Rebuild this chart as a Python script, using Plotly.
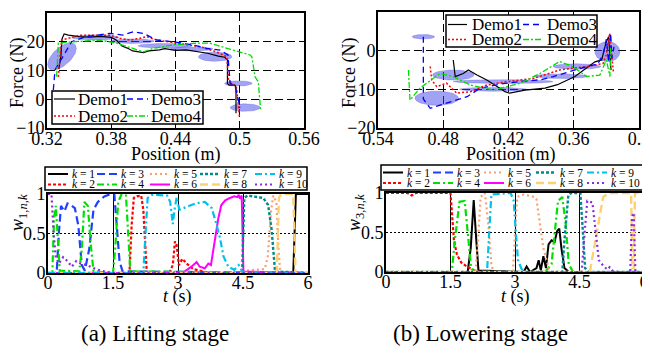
import numpy as np
import plotly.graph_objects as go

W, H = 650, 354
FONT = "Liberation Serif, Times New Roman, serif"
OFF = 8  # the page body adds an 8px margin; positions below are page pixels


def X(px):
    return (px - OFF) / W


def Y(py):
    return 1 - (py - OFF) / H


# ---------------- DATA: (a) lifting, force vs position ----------------
lift_d1_x = [0.331, 0.333, 0.334, 0.336, 0.340, 0.350, 0.360, 0.370, 0.380, 0.385, 0.390, 0.395, 0.400, 0.405,
             0.410, 0.415, 0.420, 0.425, 0.430, 0.440, 0.450, 0.460, 0.470, 0.480, 0.486, 0.4885, 0.4885, 0.490,
             0.4955, 0.4965, 0.4965]
lift_d1_y = [10.5, 15, 21, 22.7, 22.3, 21.8, 21.6, 21.9, 21.5, 20.5, 18.5, 17.8, 16.8, 16.5, 16.2, 16.8, 16.9,
             17.2, 17.6, 17.0, 17.2, 16.6, 16.0, 15.0, 14.6, 13.6, 5.5, 4.9, 4.9, 4.0, -4.9]
lift_d2_x = [0.3306, 0.3337, 0.3508, 0.3788, 0.388, 0.3975, 0.4068, 0.413, 0.4224, 0.438, 0.463, 0.478, 0.488,
             0.4895, 0.494, 0.497, 0.4997]
lift_d2_y = [7.8, 20.6, 22.3, 22.3, 21.2, 20.6, 21.2, 21.8, 20.6, 19.7, 18.3, 16.5, 14.8, 6.7, 4.9, 4.0, -6.0]
lift_d3_x = [0.3259, 0.3275, 0.3321, 0.3384, 0.343, 0.357, 0.3788, 0.391, 0.4006, 0.410, 0.4224, 0.438, 0.4567,
             0.469, 0.4815, 0.489, 0.491, 0.494, 0.496, 0.4987, 0.500]
lift_d3_y = [3.2, 10.2, 13.1, 17.1, 20.0, 21.8, 22.9, 22.3, 23.5, 22.9, 20.6, 20.0, 18.9, 17.7, 17.1, 15.4, 5.5,
             5.0, 4.0, -0.3, -3.0]
lift_d4_x = [0.329, 0.3306, 0.3445, 0.3695, 0.385, 0.4006, 0.410, 0.4193, 0.438, 0.4598, 0.472, 0.490, 0.5096,
             0.5113, 0.5143, 0.5173, 0.5195]
lift_d4_y = [7.8, 19.5, 20.0, 20.6, 19.5, 17.7, 16.5, 17.7, 18.9, 19.5, 19.5, 17.5, 15.4, 14.8, 7.8, 6.1, -3.7]

# Gaussian components: centre, half-width, half-height, correlation
lift_ell_cx = [0.334, 0.365, 0.400, 0.430, 0.455, 0.477, 0.4987, 0.505]
lift_ell_cy = [14.9, 21.5, 20.2, 18.6, 17.5, 14.8, 5.5, -2.9]
lift_ell_rx = [0.0134, 0.022, 0.020, 0.025, 0.020, 0.0156, 0.0129, 0.014]
lift_ell_ry = [4.7, 0.9, 0.8, 0.8, 0.7, 1.6, 0.9, 1.3]
lift_ell_rho = [0.6, 0, 0, 0, 0, 0, 0, 0]

# ---------------- DATA: (b) lowering, force vs position ----------------
low_d1_x = [0.4708, 0.469, 0.4616, 0.457, 0.449, 0.440, 0.428, 0.4232, 0.419, 0.4048, 0.3864, 0.375, 0.3589,
            0.3405, 0.3343, 0.3305, 0.328, 0.3257]
low_d1_y = [-2.4, -6.7, -5.9, -5.0, -6.3, -7.6, -9.7, -10.6, -11.0, -10.2, -9.7, -8.8, -6.7, -2.9, -2.4, 1.9,
            3.6, -5.0]
low_d2_x = [0.492, 0.4906, 0.486, 0.477, 0.4676, 0.455, 0.440, 0.4217, 0.397, 0.373, 0.348, 0.333, 0.330, 0.327,
            0.3236]
low_d2_y = [-4.1, -7.6, -9.3, -8.4, -11.0, -10.6, -8.9, -8.0, -7.2, -5.0, -4.1, -3.3, -1.0, 4.5, -5.4]
low_d3_x = [0.4983, 0.4983, 0.4983, 0.492, 0.476, 0.458, 0.446, 0.425, 0.409, 0.390, 0.379, 0.363, 0.348, 0.338,
            0.333, 0.330, 0.328, 0.326, 0.325, 0.323]
low_d3_y = [3.6, -5.0, -12.5, -14.9, -13.5, -11.9, -9.7, -8.5, -8.0, -7.5, -6.7, -5.4, -4.1, -3.5, -1.0, 3.0,
            -3.0, 4.5, -2.0, 1.0]
low_d4_x = [0.512, 0.5106, 0.5014, 0.483, 0.471, 0.455, 0.434, 0.409, 0.391, 0.373, 0.361, 0.348, 0.336, 0.330,
            0.3267, 0.326]
low_d4_y = [-5.0, -12.8, -9.7, -5.9, -6.7, -8.9, -10.2, -8.4, -5.9, -2.8, -4.1, -6.7, -6.3, -2.4, -6.7, 1.0]

low_ell_cx = [0.4983, 0.486, 0.4708, 0.425, 0.434, 0.372, 0.357, 0.329]
low_ell_cy = [3.6, -12.3, -6.3, -8.0, -10.0, -6.6, -4.1, -0.26]
low_ell_rx = [0.0103, 0.020, 0.019, 0.046, 0.031, 0.025, 0.022, 0.0115]
low_ell_ry = [0.6, 1.85, 1.3, 0.5, 0.5, 0.6, 0.7, 2.6]
low_ell_rho = [0, 0, 0, 0, 0, 0, 0, 0]

# ---------------- DATA: activation weights w_{1,n,k} (lifting) ----------------
lift_w_t = [
    [0, 5.66, 5.72, 6],
    [0, 1.88, 1.93, 1.98, 2.05, 2.15, 2.2, 2.24, 2.28, 2.8, 2.88, 2.93, 2.97, 3.02, 3.1, 3.2, 3.35, 3.5, 3.7, 6],
    [0, 0.2, 0.25, 0.3, 0.38, 0.45, 0.55, 0.62, 0.7, 0.78, 0.85, 0.95, 1.05, 1.15, 1.3, 1.45, 1.53, 1.58, 1.65,
     1.72, 6],
    [0, 0.1, 0.14, 0.18, 0.22, 0.27, 0.72, 0.78, 0.84, 0.92, 0.98, 1.05, 1.5, 1.55, 1.62, 1.7, 1.8, 1.85, 1.9, 6],
    [0, 4.5, 4.55, 5.0, 5.07, 5.15, 5.2, 5.27, 5.32, 5.36, 6],
    [0, 3.05, 3.16, 3.31, 3.43, 3.5, 3.62, 3.7, 3.76, 3.81, 3.87, 3.93, 4.0, 4.09, 4.2, 4.3, 4.37, 4.4, 4.43,
     4.47, 4.51, 6],
    [0, 4.48, 4.53, 4.6, 4.97, 5.08, 5.16, 5.2, 5.24, 6],
    [0, 5.28, 5.33, 5.38, 5.66, 5.71, 6],
    [0, 2.2, 2.25, 2.3, 2.4, 2.75, 2.82, 2.88, 2.92, 2.97, 3.03, 3.2, 3.4, 3.62, 3.78, 3.89, 3.97, 4.05, 4.16,
     4.3, 4.4, 4.5, 6],
    [0, 0.08, 0.13, 0.18, 0.25, 0.35, 0.45, 0.55, 0.65, 0.75, 0.9, 1.1, 1.3, 1.5, 6],
]
lift_w_v = [
    [0, 0, 1, 1],
    [0, 0, 0.6, 0.95, 0.97, 0.98, 0.8, 0.3, 0, 0, 0.1, 0.4, 0.35, 0.1, 0.18, 0.12, 0.05, 0.03, 0, 0],
    [0, 0, 0.5, 0.85, 0.78, 0.88, 0.85, 0.82, 0.6, 0.1, 0.03, 0.3, 0.8, 0.9, 0.97, 1.0, 1.0, 0.6, 0.15, 0.02, 0],
    [0, 0, 0.7, 0.85, 0.5, 0.03, 0.02, 0.3, 0.9, 0.85, 0.4, 0.02, 0, 0.3, 0.9, 1.0, 0.98, 0.5, 0.02, 0],
    [0, 0, 0.03, 0.05, 0.2, 0.8, 0.98, 0.9, 0.3, 0, 0],
    [0, 0, 0.02, 0.08, 0.14, 0.08, 0.06, 0.12, 0.1, 0.27, 0.48, 0.69, 0.86, 0.92, 0.95, 0.97, 0.96, 0.99, 0.94,
     0.98, 0.02, 0],
    [0, 0, 0.95, 0.98, 0.95, 0.86, 0.55, 0.27, 0.02, 0],
    [0, 0, 0.95, 1, 1, 0, 0],
    [0, 0, 0.5, 0.95, 0.99, 0.98, 0.9, 0.62, 0.8, 0.96, 0.8, 0.84, 0.88, 0.9, 0.82, 0.61, 0.44, 0.21, 0.08, 0.04,
     0.1, 0, 0],
    [1, 1, 0.5, 0.2, 0.12, 0.2, 0.15, 0.08, 0.15, 0.12, 0.1, 0.05, 0.02, 0, 0],
]

# ---------------- DATA: activation weights w_{3,n,k} (lowering) ----------------
low_w_t = [
    [0, 1.9, 1.97, 2.04, 2.1, 2.15, 3.2, 3.27, 3.35, 3.5, 3.55, 3.6, 3.66, 3.72, 3.78, 3.85, 3.92, 3.98, 4.03,
     4.08, 4.15, 4.25, 6],
    [0, 0.5, 0.6, 0.7, 1.5, 1.53, 1.58, 1.65, 1.75, 1.9, 2.1, 2.2, 6],
    [0, 6],
    [0, 1.53, 1.6, 1.71, 1.83, 1.9, 1.98, 2.05, 3.7, 3.85, 3.92, 4.0, 4.1, 4.18, 4.25, 4.35, 6],
    [0, 2.08, 2.14, 2.2, 2.3, 2.38, 2.45, 2.5, 2.95, 3.0, 3.05, 3.2, 3.45, 3.5, 3.58, 3.66, 3.81, 6],
    [0, 6],
    [0, 4.1, 4.15, 4.24, 4.3, 4.52, 4.58, 4.63, 4.7, 6],
    [0, 4.74, 4.9, 5.05, 5.2, 5.7, 5.73, 5.76, 5.79, 6],
    [0, 2.35, 2.4, 2.45, 2.9, 2.97, 3.02, 3.07, 3.15, 3.25, 6],
    [0, 4.55, 4.62, 4.68, 4.8, 4.88, 4.95, 5.05, 5.15, 5.2, 5.25, 5.4, 5.68, 5.72, 5.76, 5.8, 6],
]
low_w_v = [
    [0, 0, 0.3, 0.91, 0.4, 0.02, 0, 0.07, 0, 0.05, 0.15, 0.02, 0.2, 0.05, 0.35, 0.4, 0.38, 0.52, 0.55, 0.3, 0.05,
     0, 0],
    [1, 1, 0.97, 1, 1, 0.8, 0.4, 0.22, 0.12, 0.06, 0.01, 0, 0],
    [0, 0],
    [0, 0, 0.4, 0.89, 0.9, 0.5, 0.05, 0, 0, 0.1, 0.5, 0.9, 0.95, 0.6, 0.1, 0, 0],
    [0, 0, 0.4, 0.95, 1.0, 0.6, 0.1, 0, 0, 0.5, 0.95, 0.98, 0.95, 0.92, 0.6, 0.3, 0, 0],
    [0, 0],
    [0, 0, 0.4, 0.97, 1, 1, 0.5, 0.05, 0, 0],
    [0, 0, 0.49, 0.95, 1, 1, 0.05, 0.05, 1, 1],
    [0, 0, 0.5, 0.98, 1, 0.9, 0.5, 0.15, 0.04, 0, 0],
    [0, 0, 0.5, 0.9, 0.88, 0.5, 0.15, 0.08, 0.03, 0.06, 0.02, 0, 0, 0.7, 0.75, 0, 0],
]

demo_names = ["Demo1", "Demo2", "Demo3", "Demo4"]
demo_colors = ["#000000", "#FF0000", "#0000FF", "#00DD00"]
demo_dash = ["solid", "2px,2px", "6px,4px", "6px,2px,2px,2px"]
demo_width = [1.2, 1.5, 1.3, 1.3]

k_labels = ["<i>k</i> = %d" % (i + 1) for i in range(10)]
k_colors = ["#000000", "#FF0000", "#2040FF", "#00E000", "#F9A070", "#FF00FF", "#008B8B", "#FFD070",
            "#00C0F0", "#8A2BE2"]
k_dash = ["solid", "3px,2px", "8px,4px", "7px,3px,2px,3px", "2px,3px", "solid", "3px,2px", "8px,4px",
          "7px,3px,2px,3px", "2px,3px"]
k_width = [2, 2.2, 2.2, 2.2, 2.2, 2, 2.4, 2.4, 2.2, 2.2]

ELL_FILL = "rgba(70,70,235,0.5)"

fig = go.Figure()


def add_ellipses(cx, cy, rx, ry, rho, xa, ya):
    t = np.linspace(0, 2 * np.pi, 72)
    for i in range(len(cx)):
        s = np.sqrt(1 - rho[i] ** 2)
        ex = cx[i] + rx[i] * np.cos(t)
        ey = cy[i] + ry[i] * (rho[i] * np.cos(t) + s * np.sin(t))
        fig.add_trace(go.Scatter(x=ex, y=ey, mode="lines", fill="toself", fillcolor=ELL_FILL,
                                 line=dict(color="rgba(60,60,210,0.5)", width=0.5),
                                 xaxis=xa, yaxis=ya, showlegend=False, hoverinfo="skip"))


add_ellipses(lift_ell_cx, lift_ell_cy, lift_ell_rx, lift_ell_ry, lift_ell_rho, "x", "y")
add_ellipses(low_ell_cx, low_ell_cy, low_ell_rx, low_ell_ry, low_ell_rho, "x2", "y2")

lift_demos = [(lift_d1_x, lift_d1_y), (lift_d2_x, lift_d2_y), (lift_d3_x, lift_d3_y), (lift_d4_x, lift_d4_y)]
low_demos = [(low_d1_x, low_d1_y), (low_d2_x, low_d2_y), (low_d3_x, low_d3_y), (low_d4_x, low_d4_y)]
for demos, xa, ya in [(lift_demos, "x", "y"), (low_demos, "x2", "y2")]:
    for i, (dx, dy) in enumerate(demos):
        fig.add_trace(go.Scatter(x=dx, y=dy, mode="lines", name=demo_names[i],
                                 line=dict(color=demo_colors[i], dash=demo_dash[i], width=demo_width[i]),
                                 xaxis=xa, yaxis=ya, showlegend=False))

for ts, vs, xa, ya in [(lift_w_t, lift_w_v, "x3", "y3"), (low_w_t, low_w_v, "x4", "y4")]:
    for k in range(10):
        fig.add_trace(go.Scatter(x=ts[k], y=vs[k], mode="lines", name=k_labels[k],
                                 line=dict(color=k_colors[k], dash=k_dash[k], width=k_width[k]),
                                 xaxis=xa, yaxis=ya, showlegend=False))

base_axis = dict(showline=True, linecolor="black", linewidth=2, mirror=True, ticks="",
                 showgrid=True, gridcolor="black", gridwidth=1, zeroline=False,
                 tickfont=dict(family=FONT, size=18, color="black"), fixedrange=True)

top_x = dict(base_axis, griddash="8px,4px", ticklabelstandoff=-7)
top_y = dict(base_axis, griddash="8px,4px", ticklabelstandoff=-3)
bot_x = dict(base_axis, griddash="solid", tickfont=dict(family=FONT, size=18, color="black"),
             layer="below traces", ticklabelstandoff=-8)
bot_y = dict(base_axis, griddash="2px,2px", tickfont=dict(family=FONT, size=18, color="black"),
             layer="below traces", ticklabelstandoff=-3)

fig.update_layout(
    width=W, height=H, margin=dict(l=0, r=0, t=0, b=0, autoexpand=False),
    paper_bgcolor="white", plot_bgcolor="white", showlegend=False,
    xaxis=dict(top_x, domain=[X(47), X(304)], range=[0.32, 0.56], anchor="y",
               tickvals=[0.32, 0.38, 0.44, 0.5, 0.56], ticktext=["0.32", "0.38", "0.44", "0.5", "0.56"]),
    yaxis=dict(top_y, domain=[Y(128), Y(13)], range=[-10, 30], anchor="x",
               tickvals=[-10, 0, 10, 20, 30]),
    xaxis2=dict(top_x, domain=[X(378), X(639)], range=[0.54, 0.30], anchor="y2",
                tickvals=[0.54, 0.48, 0.42, 0.36, 0.30], ticktext=["0.54", "0.48", "0.42", "0.36", "0.3"]),
    yaxis2=dict(top_y, domain=[Y(128), Y(12)], range=[-20, 10], anchor="x2",
                tickvals=[-20, -10, 0, 10]),
    xaxis3=dict(bot_x, domain=[X(48), X(308)], range=[0, 6], anchor="y3",
                tickvals=[0, 1.5, 3, 4.5, 6], ticktext=["0", "1.5", "3", "4.5", "6"]),
    yaxis3=dict(bot_y, domain=[Y(273), Y(194)], range=[0, 1], anchor="x3",
                tickvals=[0, 0.5, 1], ticktext=["0", "0.5", "1"]),
    xaxis4=dict(bot_x, domain=[X(386), X(644)], range=[0, 6], anchor="y4",
                tickvals=[0, 1.5, 3, 4.5, 6], ticktext=["0", "1.5", "3", "4.5", "6"]),
    yaxis4=dict(bot_y, domain=[Y(272), Y(193)], range=[0, 1], anchor="x4",
                tickvals=[0, 0.5, 1], ticktext=["0", "0.5", "1"]),
)

shapes = []
annos = []


def txt(x, y, s, size, angle=0, xanchor="center", yanchor="middle"):
    annos.append(dict(x=X(x), y=Y(y), xref="paper", yref="paper", text=s, showarrow=False,
                      textangle=angle, xanchor=xanchor, yanchor=yanchor,
                      font=dict(family=FONT, size=size, color="black")))


def legend(box, names, colors, dashes, widths, cols, rows, size, line_len=20, text_off=22):
    x0, y0, x1, y1 = box
    shapes.append(dict(type="rect", xref="paper", yref="paper", x0=X(x0), y0=Y(y1), x1=X(x1), y1=Y(y0),
                       fillcolor="white", line=dict(color="black", width=1.5), layer="above"))
    nrows = len(rows)
    for i in range(len(names)):
        c, r = divmod(i, nrows)
        lx, ly = cols[c], rows[r]
        shapes.append(dict(type="line", xref="paper", yref="paper", x0=X(lx), x1=X(lx + line_len),
                           y0=Y(ly), y1=Y(ly), layer="above",
                           line=dict(color=colors[i], dash=dashes[i], width=widths[i])))
        txt(lx + text_off, ly, names[i], size, xanchor="left")


legend((52, 91, 203, 124), demo_names, demo_colors, demo_dash, demo_width, [54, 127], [99, 116], 17,
       line_len=21, text_off=22)
legend((446, 15, 597, 47), demo_names, demo_colors, demo_dash, demo_width, [448, 523], [24.5, 39.5], 17,
       line_len=19, text_off=22)
legend((45, 167, 307, 190), k_labels, k_colors, k_dash, k_width, [48, 97, 150, 200, 255], [174, 184.5], 11.5)
legend((381, 165, 643, 190), k_labels, k_colors, k_dash, k_width, [383, 433, 484, 536, 587], [172.5, 183],
       11.5)

# axis titles
txt(17, 73, "Force (N)", 18, angle=-90)
txt(176, 154, "Position (m)", 18)
txt(349, 73, "Force (N)", 18, angle=-90)
txt(511, 154, "Position (m)", 18)
txt(18, 213, "<i>w</i><sub>1,<i>n</i>,<i>k</i></sub>", 18, angle=-90)
txt(177, 296, "<i>t</i> (s)", 18)
txt(355, 213, "<i>w</i><sub>3,<i>n</i>,<i>k</i></sub>", 18, angle=-90)
txt(515, 296, "<i>t</i> (s)", 18)
# captions
txt(155, 333, "(a) Lifting stage", 23)
txt(481, 333, "(b) Lowering stage", 23)

fig.update_layout(shapes=shapes, annotations=annos)
fig.write_html("out.html")
